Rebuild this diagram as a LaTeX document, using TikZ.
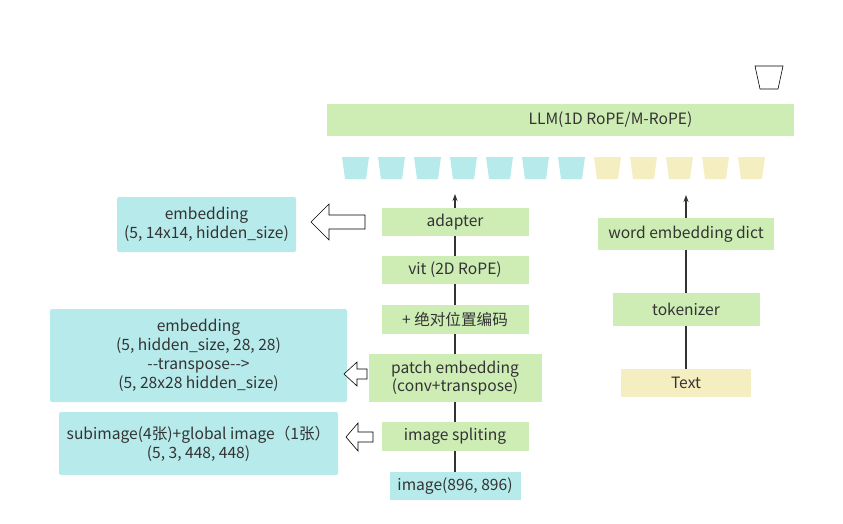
\documentclass[tikz,border=0pt]{standalone}
\usepackage{fontspec}
\setmainfont{Noto Sans CJK SC}
\usetikzlibrary{arrows.meta}
\definecolor{boxgreen}{RGB}{205,237,181}
\definecolor{boxcyan}{RGB}{183,234,234}
\definecolor{boxyellow}{RGB}{245,238,192}
\definecolor{inkgray}{RGB}{51,51,51}
\newcommand{\hollowarrow}[6]{\draw[black,line width=0.6pt,fill=white] (#1,#4) -- (#2,#4-#5) -- (#2,#4-#6) -- (#3,#4-#6) -- (#3,#4+#6) -- (#2,#4+#6) -- (#2,#4+#5) -- cycle;}
\begin{document}
\begin{tikzpicture}[x=1pt,y=-1pt,font=\fontsize{15.6}{18.8}\selectfont,text=inkgray,
  stage/.style={fill=boxgreen,minimum height=28pt,minimum width=147pt,inner sep=0pt},
  info/.style={fill=boxcyan,rounded corners=2pt,align=center,inner sep=0pt},
  flow/.style={draw=inkgray,line width=1.1pt}]
\useasboundingbox (0,0) rectangle (843,524);
\draw[line width=0.6pt] (755,66) -- (783,66) -- (778,89) -- (760,89) -- cycle;
\node[stage,minimum width=467pt,minimum height=32pt] (llm) at (560.5,120) {\hspace{100pt}LLM(1D RoPE/M-RoPE)};
\foreach \i in {0,...,6} \fill[boxcyan] (342+36*\i,157) -- (369+36*\i,157) -- (366+36*\i,179) -- (345+36*\i,179) -- cycle;
\foreach \i in {7,...,11} \fill[boxyellow] (342+36*\i,157) -- (369+36*\i,157) -- (366+36*\i,179) -- (345+36*\i,179) -- cycle;
\node[stage] (adapter) at (455,222) {adapter};
\node[stage] (vit) at (455,270) {vit (2D RoPE)};
\node[stage,minimum height=29pt] (abspos) at (455,319.5) {+ 绝对位置编码};
\node[stage,minimum width=173pt,minimum height=48pt,align=center] (patch) at (455,378) {patch embedding\\(conv+transpose)};
\node[stage,minimum height=29pt] (split) at (455,436.5) {image spliting};
\node[stage,fill=boxcyan,minimum width=131pt] (img) at (455,486) {image(896, 896)};
\node[stage,minimum width=176pt,minimum height=32pt] (word) at (686,234) {word embedding dict};
\node[stage,minimum height=33pt] (tokenizer) at (686,309.5) {tokenizer};
\node[stage,fill=boxyellow,minimum width=130pt] (text) at (686,383) {Text};
\node[info,minimum width=179pt,minimum height=55pt] (emb1) at (206.5,224.5) {embedding\\(5, 14x14, hidden\_size)};
\node[info,minimum width=297pt,minimum height=93pt] (emb2) at (198.5,355.5) {embedding\\(5, hidden\_size, 28, 28)\\-{}-transpose-{}->\\(5, 28x28 hidden\_size)};
\node[info,minimum width=279pt,minimum height=63pt] (sub) at (198.5,443.5) {subimage(4张)+global image（1张）\\(5, 3, 448, 448)};
\coordinate (vtop) at (455,194);
\coordinate (ttop) at (686,195);
\draw[flow] (img) -- (split) -- (patch) -- (abspos) -- (vit) -- (adapter);
\draw[flow,-{Stealth[length=7pt,width=5pt]}] (adapter) -- (vtop);
\draw[flow] (text) -- (tokenizer) -- (word);
\draw[flow,-{Stealth[length=7pt,width=5pt]}] (word) -- (ttop);
\hollowarrow{311}{329}{365}{222}{18}{7}
\hollowarrow{344}{357}{367}{374}{12}{5}
\hollowarrow{346}{358}{373}{437}{14}{5}
\end{tikzpicture}
\end{document}
